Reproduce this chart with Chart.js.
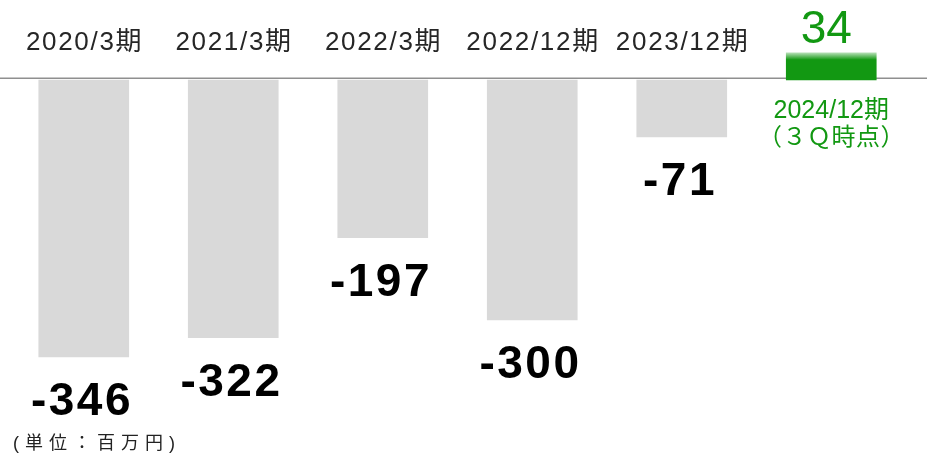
<!DOCTYPE html>
<html>
<head>
<meta charset="utf-8">
<script src="https://cdn.jsdelivr.net/npm/chart.js@4"></script>
<style>
  html, body { margin: 0; padding: 0; background: #ffffff; }
  #wrap { width: 927px; height: 457px; }
</style>
</head>
<body>
<div id="wrap"><canvas id="c" width="927" height="457"></canvas></div>
<script>
// ---- data ----
const categories = ['2020/3期', '2021/3期', '2022/3期', '2022/12期', '2023/12期', '2024/12期'];
const values = [-346, -322, -197, -300, -71, 34];
const valueLabels = ['-346', '-322', '-197', '-300', '-71', '34'];
const highlightSubLabel = '（３Ｑ時点）';
const unitLabel = '(単位：百万円)';
const highlightIndex = 5;

// ---- styles ----
const GRAY = '#d9d9d9';
const GREEN = '#129812';
const FONT = '"Liberation Sans", Arial, "Noto Sans CJK JP", sans-serif';

function withSpacing(ctx, spacing, fn) {
  ctx.save();
  if ('letterSpacing' in ctx) ctx.letterSpacing = spacing + 'px';
  fn(('letterSpacing' in ctx) ? spacing : 0);
  ctx.restore();
}

const labelPlugin = {
  id: 'labels',
  beforeDatasetsDraw(chart) {
    const ctx = chart.ctx;
    const y0 = chart.scales.y.getPixelForValue(0);
    ctx.save();
    ctx.fillStyle = '#8f8f8f';
    ctx.fillRect(0, y0 - 2.5, chart.width, 1.5);
    ctx.restore();
  },
  afterDatasetsDraw(chart) {
    const ctx = chart.ctx;
    const meta = chart.getDatasetMeta(0);
    const y0 = chart.scales.y.getPixelForValue(0);
    meta.data.forEach((bar, i) => {
      if (i === highlightIndex) {
        // value above bar
        ctx.save();
        ctx.fillStyle = GREEN;
        ctx.font = '46px ' + FONT;
        ctx.textAlign = 'center';
        ctx.textBaseline = 'alphabetic';
        ctx.fillText(valueLabels[i], bar.x - 5, 43);
        // category label under baseline
        ctx.font = '25px ' + FONT;
        ctx.fillText(categories[i], bar.x, y0 + 38);
        ctx.restore();
        withSpacing(ctx, 0.5, (sp) => {
          ctx.fillStyle = GREEN;
          ctx.font = '24px "Noto Sans CJK JP", sans-serif';
          ctx.textAlign = 'center';
          ctx.textBaseline = 'alphabetic';
          ctx.fillText(highlightSubLabel, bar.x + sp / 2, y0 + 65);
        });
      } else {
        // category label on top
        withSpacing(ctx, 1.7, (sp) => {
          ctx.fillStyle = '#262626';
          ctx.font = '26px ' + FONT;
          ctx.textAlign = 'center';
          ctx.textBaseline = 'alphabetic';
          ctx.fillText(categories[i], bar.x + sp / 2, 50);
        });
        // value below bar
        withSpacing(ctx, 2.5, (sp) => {
          ctx.fillStyle = '#000000';
          ctx.font = 'bold 46px ' + FONT;
          ctx.textAlign = 'center';
          ctx.textBaseline = 'alphabetic';
          ctx.fillText(valueLabels[i], bar.x - 3 + sp / 2, bar.y + 58);
        });
      }
    });
    // unit label
    withSpacing(ctx, 6, () => {
      ctx.fillStyle = '#222222';
      ctx.font = '18px ' + FONT;
      ctx.textAlign = 'left';
      ctx.textBaseline = 'alphabetic';
      ctx.fillText(unitLabel, 13, 449);
    });
  }
};

new Chart(document.getElementById('c'), {
  type: 'bar',
  data: {
    labels: categories,
    datasets: [{
      data: values,
      barThickness: 90,
      borderWidth: 0,
      backgroundColor: (context) => {
        if (context.dataIndex !== highlightIndex) return GRAY;
        const chart = context.chart;
        if (!chart.chartArea || !chart.scales.y) return GREEN;
        const top = chart.scales.y.getPixelForValue(values[highlightIndex]);
        const g = chart.ctx.createLinearGradient(0, top, 0, top + 7);
        g.addColorStop(0, '#b5dfb5');
        g.addColorStop(1, GREEN);
        return g;
      }
    }]
  },
  options: {
    responsive: false,
    animation: false,
    devicePixelRatio: 1,
    layout: { padding: { left: 9, right: 21, top: 0, bottom: 0 } },
    plugins: { legend: { display: false }, tooltip: { enabled: false } },
    scales: {
      x: { display: false },
      y: { display: false, min: -471.25, max: 100 }
    }
  },
  plugins: [labelPlugin]
});
</script>
</body>
</html>
